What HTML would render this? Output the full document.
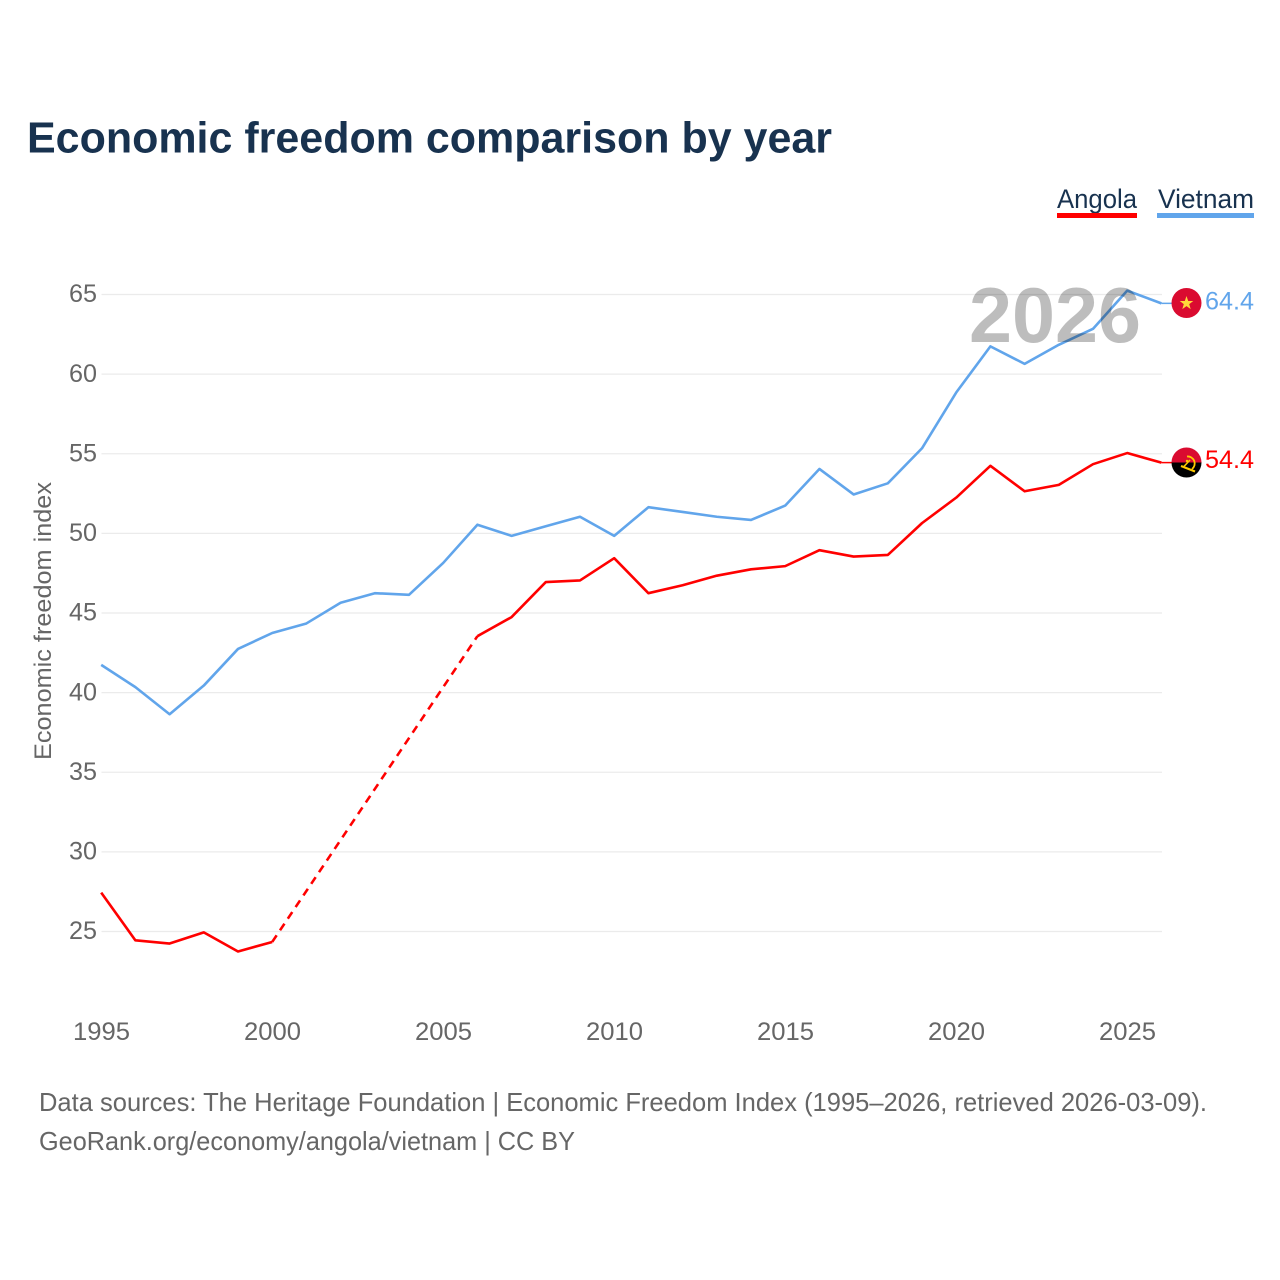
<!DOCTYPE html>
<html lang="en">
<head>
<meta charset="utf-8">
<title>Economic freedom comparison by year</title>
<style>
html,body{margin:0;padding:0;background:#fff;width:1280px;height:1280px;overflow:hidden}
svg{display:block;font-family:"Liberation Sans",sans-serif}
</style>
</head>
<body>
<svg id="chart" width="1280" height="1280" viewBox="0 0 1280 1280" xmlns="http://www.w3.org/2000/svg">
  <defs>
    <clipPath id="ao-clip"><circle cx="1186.5" cy="462.5" r="15"/></clipPath>
  </defs>
  <rect width="1280" height="1280" fill="#fff"/>
  <text x="27" y="152.5" font-size="44" font-weight="700" fill="#18324f" textLength="805" lengthAdjust="spacingAndGlyphs">Economic freedom comparison by year</text>
  <g id="grid"></g>
  <g id="yticks"></g>
  <g id="xticks"></g>
  <text transform="translate(51,621) rotate(-90)" text-anchor="middle" font-size="24" fill="#666" textLength="278" lengthAdjust="spacingAndGlyphs">Economic freedom index</text>
  <g id="lines"></g>
  <text x="969" y="342" font-size="78" font-weight="700" fill="#000" fill-opacity="0.26" textLength="172" lengthAdjust="spacingAndGlyphs">2026</text>

  <g>
    <text x="1057" y="208" font-size="27" fill="#18324f" textLength="80" lengthAdjust="spacingAndGlyphs">Angola</text>
    <rect x="1057" y="213" width="80" height="5" fill="#ff0000"/>
  </g>
  <g>
    <text x="1158" y="208" font-size="27" fill="#18324f" textLength="96" lengthAdjust="spacingAndGlyphs">Vietnam</text>
    <rect x="1157" y="213" width="97" height="5" fill="#61a5eb"/>
  </g>

  <g>
    <circle cx="1186.5" cy="303" r="15" fill="#da0b30"/>
    <polygon points="1186.5,296 1188.2,301 1193.3,301 1189.2,304.1 1190.7,309.1 1186.5,306.1 1182.3,309.1 1183.8,304.1 1179.7,301 1184.8,301" fill="#ffd83a"/>
  </g>
  <g clip-path="url(#ao-clip)">
    <rect x="1171" y="447" width="31" height="16" fill="#da0b30"/>
    <rect x="1171" y="462.5" width="31" height="16" fill="#000"/>
    <path d="M1187 456.5 A7 7 0 0 1 1192 469" fill="none" stroke="#ffcb00" stroke-width="1.8"/>
    <path d="M1181 466 L1195 471.5" fill="none" stroke="#ffcb00" stroke-width="2.2"/>
    <path d="M1190 460 L1183 467.5" fill="none" stroke="#ffcb00" stroke-width="1.6"/>
    <circle cx="1187" cy="461" r="1.2" fill="#ffcb00"/>
  </g>
  <text x="1205" y="309.5" font-size="25" fill="#61a5eb" textLength="49" lengthAdjust="spacingAndGlyphs">64.4</text>
  <text x="1205" y="468" font-size="25" fill="#ff0000" textLength="49" lengthAdjust="spacingAndGlyphs">54.4</text>

  <text x="39" y="1111" font-size="26" fill="#666" textLength="1168" lengthAdjust="spacingAndGlyphs">Data sources: The Heritage Foundation | Economic Freedom Index (1995–2026, retrieved 2026-03-09).</text>
  <text x="39" y="1150" font-size="26" fill="#666" textLength="536" lengthAdjust="spacingAndGlyphs">GeoRank.org/economy/angola/vietnam | CC BY</text>
</svg>
<script>
const years = [1995,1996,1997,1998,1999,2000,2001,2002,2003,2004,2005,2006,2007,2008,2009,2010,2011,2012,2013,2014,2015,2016,2017,2018,2019,2020,2021,2022,2023,2024,2025,2026];
const vietnamValues = [41.7,40.3,38.6,40.4,42.7,43.7,44.3,45.6,46.2,46.1,48.1,50.5,49.8,50.4,51.0,49.8,51.6,51.3,51.0,50.8,51.7,54.0,52.4,53.1,55.3,58.8,61.7,60.6,61.8,62.8,65.2,64.4];
const angolaValues = [27.4,24.4,24.2,24.9,23.7,24.3,null,null,null,null,null,43.5,44.7,46.9,47.0,48.4,46.2,46.7,47.3,47.7,47.9,48.9,48.5,48.6,50.6,52.2,54.2,52.6,53.0,54.3,55.0,54.4];
const yTickValues = [25,30,35,40,45,50,55,60,65];
const xTickValues = [1995,2000,2005,2010,2015,2020,2025];

const NS = 'http://www.w3.org/2000/svg';
function xScale(year){ return 101.2 + (year - 1995) * 34.2; }
function yScale(v){ return 931.5 - (v - 25) * 15.925; }
const LINE_SHIFT = -0.7;
function make(tag, attrs, parent){
  const el = document.createElementNS(NS, tag);
  for (const k in attrs) el.setAttribute(k, attrs[k]);
  parent.appendChild(el);
  return el;
}
const grid = document.getElementById('grid');
const yticks = document.getElementById('yticks');
const xticks = document.getElementById('xticks');
const lines = document.getElementById('lines');

yTickValues.forEach(function(v){
  const gl = make('line', {x1:101.5, x2:1162, y1:yScale(v), y2:yScale(v), stroke:'#ebebeb', 'stroke-width':1.3}, grid);
  
  
  const t = make('text', {x:97, y:yScale(v) + 7.7, 'text-anchor':'end', 'font-size':25, fill:'#666', textLength:28, lengthAdjust:'spacingAndGlyphs'}, yticks);
  
  
  t.textContent = v;
});
xTickValues.forEach(function(y){
  const t = make('text', {x:xScale(y) + 0.3, y:1040, 'text-anchor':'middle', 'font-size':25, fill:'#666', textLength:57, lengthAdjust:'spacingAndGlyphs'}, xticks);
  
  
  t.textContent = y;
});

function drawSeries(name, values, color){
  let seg = [];
  let lastPoint = null;
  function flush(){
    if (seg.length > 1) {
      const p = make('polyline', {points:seg.join(' '), fill:'none', stroke:color, 'stroke-width':2.6, 'stroke-linejoin':'round'}, lines);
      
      
    }
    seg = [];
  }
  values.forEach(function(v, i){
    if (v === null) { flush(); return; }
    const pt = [xScale(years[i]), yScale(v) + LINE_SHIFT];
    if (lastPoint && lastPoint.i !== i - 1) {
      const d = make('line', {x1:lastPoint.pt[0], y1:lastPoint.pt[1], x2:pt[0], y2:pt[1], stroke:color, 'stroke-width':2.6, 'stroke-dasharray':'8 6'}, lines);
      
      
    }
    seg.push(pt.join(','));
    lastPoint = {i:i, pt:pt};
  });
  flush();
  const c = make('line', {x1:lastPoint.pt[0], y1:lastPoint.pt[1], x2:1172, y2:lastPoint.pt[1], stroke:color, 'stroke-width':1.5}, lines);
  
  
}
drawSeries('vietnam', vietnamValues, '#61a5eb');
drawSeries('angola', angolaValues, '#ff0000');
</script>
</body>
</html>
